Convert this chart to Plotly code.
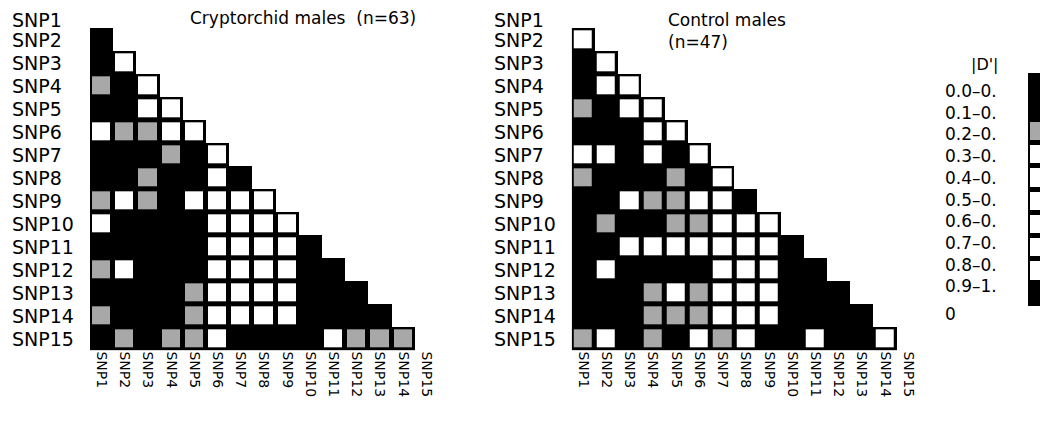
import plotly.graph_objects as go

OFF = 8  # default page body margin of the html page
W, H = 1048 - OFF, 425 - OFF
FONT = "DejaVu Sans"

snps = ["SNP1", "SNP2", "SNP3", "SNP4", "SNP5", "SNP6", "SNP7", "SNP8",
        "SNP9", "SNP10", "SNP11", "SNP12", "SNP13", "SNP14", "SNP15"]

title_left = "Cryptorchid males  (n=63)"
title_right = "Control males<br>(n=47)"

# |D'| class values per pair (row SNPi, columns SNP1..SNP(i-1)), rows SNP2..SNP15
cryptorchid_dprime = [
    [0.95],
    [0.95, 0.55],
    [0.25, 0.95, 0.55],
    [0.95, 0.95, 0.55, 0.55],
    [0.55, 0.25, 0.25, 0.55, 0.55],
    [0.95, 0.95, 0.95, 0.25, 0.95, 0.55],
    [0.95, 0.95, 0.25, 0.95, 0.95, 0.55, 0.95],
    [0.25, 0.55, 0.25, 0.95, 0.55, 0.55, 0.55, 0.55],
    [0.55, 0.95, 0.95, 0.95, 0.95, 0.55, 0.55, 0.55, 0.55],
    [0.95, 0.95, 0.95, 0.95, 0.95, 0.55, 0.55, 0.55, 0.55, 0.95],
    [0.25, 0.55, 0.95, 0.95, 0.95, 0.55, 0.55, 0.55, 0.55, 0.95, 0.95],
    [0.95, 0.95, 0.95, 0.95, 0.25, 0.55, 0.55, 0.55, 0.55, 0.95, 0.95, 0.95],
    [0.25, 0.95, 0.95, 0.95, 0.25, 0.55, 0.55, 0.55, 0.55, 0.95, 0.95, 0.95, 0.95],
    [0.95, 0.25, 0.95, 0.25, 0.25, 0.55, 0.95, 0.95, 0.95, 0.95, 0.55, 0.25, 0.25, 0.25],
]

control_dprime = [
    [0.55],
    [0.95, 0.55],
    [0.95, 0.55, 0.55],
    [0.25, 0.95, 0.55, 0.55],
    [0.95, 0.95, 0.95, 0.55, 0.55],
    [0.55, 0.55, 0.95, 0.55, 0.95, 0.55],
    [0.25, 0.95, 0.95, 0.95, 0.25, 0.95, 0.55],
    [0.95, 0.95, 0.55, 0.25, 0.25, 0.55, 0.55, 0.95],
    [0.95, 0.25, 0.95, 0.95, 0.25, 0.25, 0.55, 0.55, 0.55],
    [0.95, 0.95, 0.55, 0.55, 0.55, 0.55, 0.55, 0.55, 0.55, 0.95],
    [0.95, 0.55, 0.95, 0.95, 0.95, 0.95, 0.55, 0.55, 0.55, 0.95, 0.95],
    [0.95, 0.95, 0.95, 0.25, 0.55, 0.25, 0.55, 0.55, 0.55, 0.95, 0.95, 0.95],
    [0.95, 0.95, 0.95, 0.25, 0.25, 0.25, 0.55, 0.55, 0.55, 0.95, 0.95, 0.95, 0.95],
    [0.25, 0.55, 0.95, 0.25, 0.95, 0.55, 0.25, 0.55, 0.95, 0.95, 0.55, 0.95, 0.95, 0.55],
]

legend_title = "|D'|"
legend_labels = ["0.0–0.", "0.1–0.", "0.2–0.", "0.3–0.", "0.4–0.",
                 "0.5–0.", "0.6–0.", "0.7–0.", "0.8–0.", "0.9–1.", "0"]
legend_mid = [0.05, 0.15, 0.25, 0.35, 0.45, 0.55, 0.65, 0.75, 0.85, 0.95]
legend_colors = ["#000000", "#000000", "#a8a8a8", "#ffffff", "#ffffff",
                 "#ffffff", "#ffffff", "#ffffff", "#ffffff", "#000000"]

# discrete colorscale
cs = []
for k, c in enumerate(legend_colors):
    cs.append([k / 10, c])
    cs.append([(k + 1) / 10, c])
black_cs = [[0, "#000000"], [1, "#000000"]]

n = len(snps)


def full_matrix(rows):
    z = [[None] * n for _ in range(n)]
    mask = [[None] * n for _ in range(n)]
    for i, r in enumerate(rows, start=1):
        for j, v in enumerate(r):
            z[i][j] = v
            mask[i][j] = 1
    return z, mask


def px_x(p):
    return min(1.0, (p - OFF) / W)


def px_y(p):
    return max(0.0, min(1.0, 1 - (p - OFF) / H))


fig = go.Figure()
GAP = 5
for idx, rows in enumerate([cryptorchid_dprime, control_dprime]):
    xa = "x" if idx == 0 else "x2"
    ya = "y" if idx == 0 else "y2"
    z, mask = full_matrix(rows)
    fig.add_trace(go.Heatmap(z=mask, x=list(range(n)), y=list(range(n)), colorscale=black_cs,
                             zmin=0, zmax=1, showscale=False, hoverinfo="skip",
                             xaxis=xa, yaxis=ya))
    fig.add_trace(go.Heatmap(z=z, x=list(range(n)), y=list(range(n)), colorscale=cs,
                             zmin=0, zmax=1, showscale=False, xgap=GAP, ygap=GAP,
                             xaxis=xa, yaxis=ya))

# legend bar
fig.add_trace(go.Heatmap(z=[[1] for _ in legend_mid], x=[0], y=list(range(len(legend_mid))),
                         colorscale=black_cs, zmin=0, zmax=1, showscale=False,
                         hoverinfo="skip", xaxis="x3", yaxis="y3"))
fig.add_trace(go.Heatmap(z=[[v] for v in legend_mid], x=[0], y=list(range(len(legend_mid))),
                         colorscale=cs, zmin=0, zmax=1, showscale=False, xgap=GAP, ygap=GAP,
                         hoverinfo="skip", xaxis="x3", yaxis="y3"))

grid_top, grid_bot = 5.3, 350.5
row_h = (grid_bot - grid_top) / n
top_px = max(grid_top, OFF)
top_val = -0.5 + (top_px - grid_top) / row_h

xaxis_common = dict(range=[-0.5, n - 0.5], showgrid=False, zeroline=False, showline=False,
                    tickmode="array", tickvals=list(range(n)), ticktext=snps,
                    tickangle=90, tickfont=dict(family=FONT, size=14, color="black"),
                    ticks="", fixedrange=True)
yaxis_common = dict(range=[n - 0.5, top_val], showgrid=False, zeroline=False, showline=False,
                    showticklabels=False, ticks="", fixedrange=True,
                    domain=[px_y(grid_bot), px_y(top_px)])

fig.update_layout(
    width=W, height=H,
    margin=dict(l=0, r=0, t=0, b=0),
    paper_bgcolor="white", plot_bgcolor="white",
    font=dict(family=FONT, color="black"),
    xaxis=dict(**xaxis_common, domain=[px_x(90), px_x(438)], anchor="y"),
    yaxis=dict(**yaxis_common, anchor="x"),
    xaxis2=dict(**xaxis_common, domain=[px_x(571.7), px_x(920)], anchor="y2"),
    yaxis2=dict(**yaxis_common, anchor="x2"),
    xaxis3=dict(range=[-0.5, 0.35], domain=[px_x(1028), px_x(1048)], showgrid=False,
                zeroline=False, showticklabels=False, ticks="", anchor="y3", fixedrange=True),
    yaxis3=dict(range=[9.5, -0.5], domain=[px_y(306), px_y(73)], showgrid=False, zeroline=False,
                showticklabels=False, ticks="", anchor="x3", fixedrange=True),
    showlegend=False,
)

ann = []
for k, name in enumerate(snps):
    shift = -3 if k == 0 else 0
    ann.append(dict(x=px_x(10), xref="paper", y=k, yref="y", text=name, showarrow=False,
                    xanchor="left", yanchor="middle", yshift=shift,
                    font=dict(size=19, family=FONT)))
    ann.append(dict(x=px_x(492), xref="paper", y=k, yref="y2", text=name, showarrow=False,
                    xanchor="left", yanchor="middle", yshift=shift,
                    font=dict(size=19, family=FONT)))

ann.append(dict(x=px_x(303), xref="paper", y=px_y(18), yref="paper", text=title_left,
                showarrow=False, xanchor="center", yanchor="middle", font=dict(size=17)))
ann.append(dict(x=px_x(666), xref="paper", y=px_y(8), yref="paper", text=title_right,
                showarrow=False, xanchor="left", yanchor="top", align="left", font=dict(size=17)))
ann.append(dict(x=px_x(985), xref="paper", y=px_y(64), yref="paper", text=legend_title,
                showarrow=False, xanchor="center", yanchor="middle", font=dict(size=16)))
for k, lab in enumerate(legend_labels):
    ypx = 91 + 21.7 * k if k < 10 else 314
    ann.append(dict(x=px_x(943), xref="paper", y=px_y(ypx), yref="paper", text=lab,
                    showarrow=False, xanchor="left", yanchor="middle", font=dict(size=17)))
fig.update_layout(annotations=ann)

fig.write_html("out.html")
